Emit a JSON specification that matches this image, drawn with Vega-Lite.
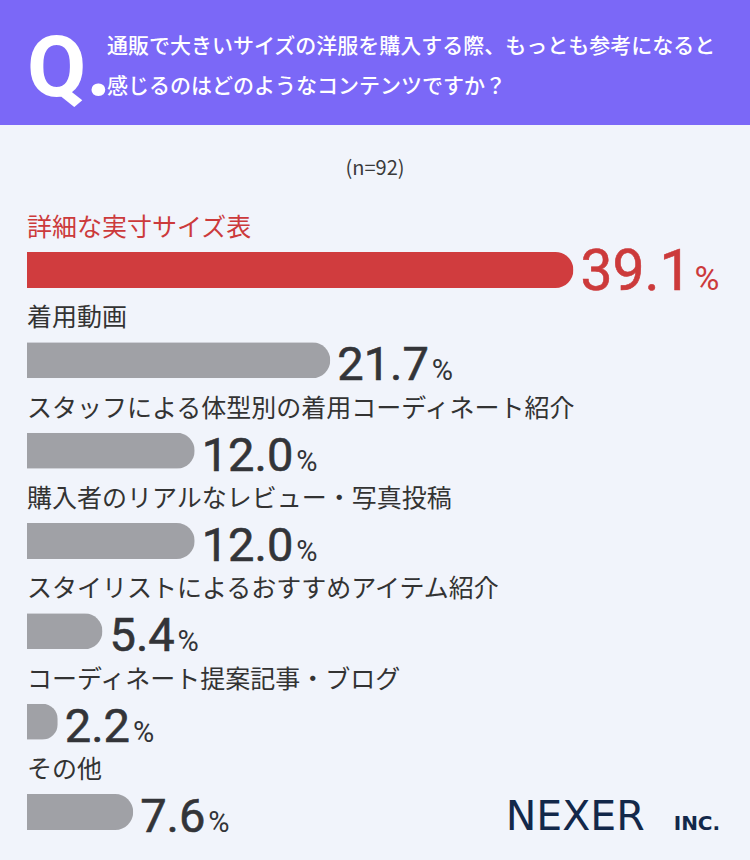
{
  "$schema": "https://vega.github.io/schema/vega-lite/v6.json",
  "background": "#f1f4fb",
  "padding": 0,
  "spacing": 34,
  "config": {"view": {"stroke": null}, "font": "Noto Sans CJK JP"},
  "vconcat": [
    {
      "width": 750,
      "height": 125,
      "view": {"fill": "#7b68f7", "stroke": null},
      "layer": [
        {
          "data": {"values": [
            {"line": 1, "q": "通販で大きいサイズの洋服を購入する際、もっとも参考になると"},
            {"line": 2, "q": "感じるのはどのようなコンテンツですか？"}
          ]},
          "mark": {"type": "text", "align": "left", "baseline": "middle", "fontSize": 21, "fontWeight": 500, "color": "#ffffff", "font": "Noto Sans CJK JP"},
          "encoding": {
            "x": {"datum": 0, "type": "quantitative", "scale": {"domain": [0, 1], "range": [107, 720]}, "axis": null},
            "y": {"field": "line", "type": "ordinal", "scale": {"type": "point", "range": [47, 87], "padding": 0}, "axis": null},
            "text": {"field": "q"}
          }
        },
        {
          "data": {"values": [{"q": "Q."}]},
          "mark": {"type": "text", "align": "left", "baseline": "alphabetic", "dx": -80, "dy": 33, "fontSize": 86, "fontWeight": "bold", "font": "Roboto", "color": "#ffffff"},
          "encoding": {
            "x": {"datum": 0, "type": "quantitative"},
            "text": {"field": "q"}
          }
        }
      ]
    },
    {
      "width": 750,
      "height": 672,
      "title": {"text": "(n=92)", "fontSize": 20, "fontWeight": "normal", "color": "#3a3a3a", "anchor": "middle", "offset": 9, "frame": "group", "font": "Noto Sans CJK JP"},
      "data": {"values": [
        {"item": "詳細な実寸サイズ表", "pct": 39.1},
        {"item": "着用動画", "pct": 21.7},
        {"item": "スタッフによる体型別の着用コーディネート紹介", "pct": 12.0},
        {"item": "購入者のリアルなレビュー・写真投稿", "pct": 12.0},
        {"item": "スタイリストによるおすすめアイテム紹介", "pct": 5.4},
        {"item": "コーディネート提案記事・ブログ", "pct": 2.2},
        {"item": "その他", "pct": 7.6}
      ]},
      "encoding": {
        "y": {"field": "item", "type": "nominal", "sort": null, "scale": {"type": "point", "range": [82, 624], "padding": 0}, "axis": null}
      },
      "layer": [
        {
          "mark": {"type": "bar", "height": 36, "cornerRadiusEnd": 18},
          "encoding": {
            "x": {"field": "pct", "type": "quantitative", "scale": {"domain": [0, 40], "range": [27, 586]}, "axis": null},
            "color": {"condition": {"test": "datum.item === '詳細な実寸サイズ表'", "value": "#d03c3e"}, "value": "#a0a1a6"}
          }
        },
        {
          "mark": {"type": "text", "align": "left", "baseline": "middle", "dy": -42, "fontSize": 25, "fontWeight": "normal", "font": "Noto Sans CJK JP"},
          "encoding": {
            "x": {"datum": 0, "type": "quantitative"},
            "text": {"field": "item"},
            "color": {"condition": {"test": "datum.item === '詳細な実寸サイズ表'", "value": "#cc3a3b"}, "value": "#333333"}
          }
        },
        {
          "mark": {"type": "text", "align": "left", "baseline": "alphabetic", "dx": 7, "dy": 20, "font": "Roboto", "fontWeight": "normal", "strokeWidth": 0.6},
          "encoding": {
            "x": {"field": "pct", "type": "quantitative"},
            "text": {"field": "pct", "format": ".1f"},
            "size": {"condition": {"test": "datum.item === '詳細な実寸サイズ表'", "value": 57}, "value": 47},
            "color": {"condition": {"test": "datum.item === '詳細な実寸サイズ表'", "value": "#cc3a3b"}, "value": "#333438"},
            "stroke": {"condition": {"test": "datum.item === '詳細な実寸サイズ表'", "value": "#cc3a3b"}, "value": "#333438"}
          }
        },
        {
          "mark": {"type": "text", "align": "left", "baseline": "alphabetic", "dy": 20, "font": "Roboto", "fontWeight": "normal",
            "dx": {"expr": "10 + (datum.pct > 30 ? 57 : 47) * (0.5615 * (length(format(datum.pct, '.1f')) - 1) + 0.263)"}},
          "encoding": {
            "x": {"field": "pct", "type": "quantitative"},
            "text": {"value": "%"},
            "size": {"condition": {"test": "datum.item === '詳細な実寸サイズ表'", "value": 34}, "value": 29},
            "color": {"condition": {"test": "datum.item === '詳細な実寸サイズ表'", "value": "#cc3a3b"}, "value": "#333438"}
          }
        },
        {
          "data": {"values": [{"t": "NEXER"}]},
          "mark": {"type": "text", "align": "right", "baseline": "alphabetic", "dy": 18, "fontSize": 41, "font": "DejaVu Sans", "color": "#13284a"},
          "encoding": {
            "x": {"datum": 44.2, "type": "quantitative"},
            "y": {"datum": "その他"},
            "text": {"field": "t"}
          }
        },
        {
          "data": {"values": [{"t": "INC."}]},
          "mark": {"type": "text", "align": "right", "baseline": "alphabetic", "dy": 18, "fontSize": 20, "fontWeight": "bold", "font": "DejaVu Sans", "color": "#13284a"},
          "encoding": {
            "x": {"datum": 49.6, "type": "quantitative"},
            "y": {"datum": "その他"},
            "text": {"field": "t"}
          }
        }
      ]
    }
  ]
}
